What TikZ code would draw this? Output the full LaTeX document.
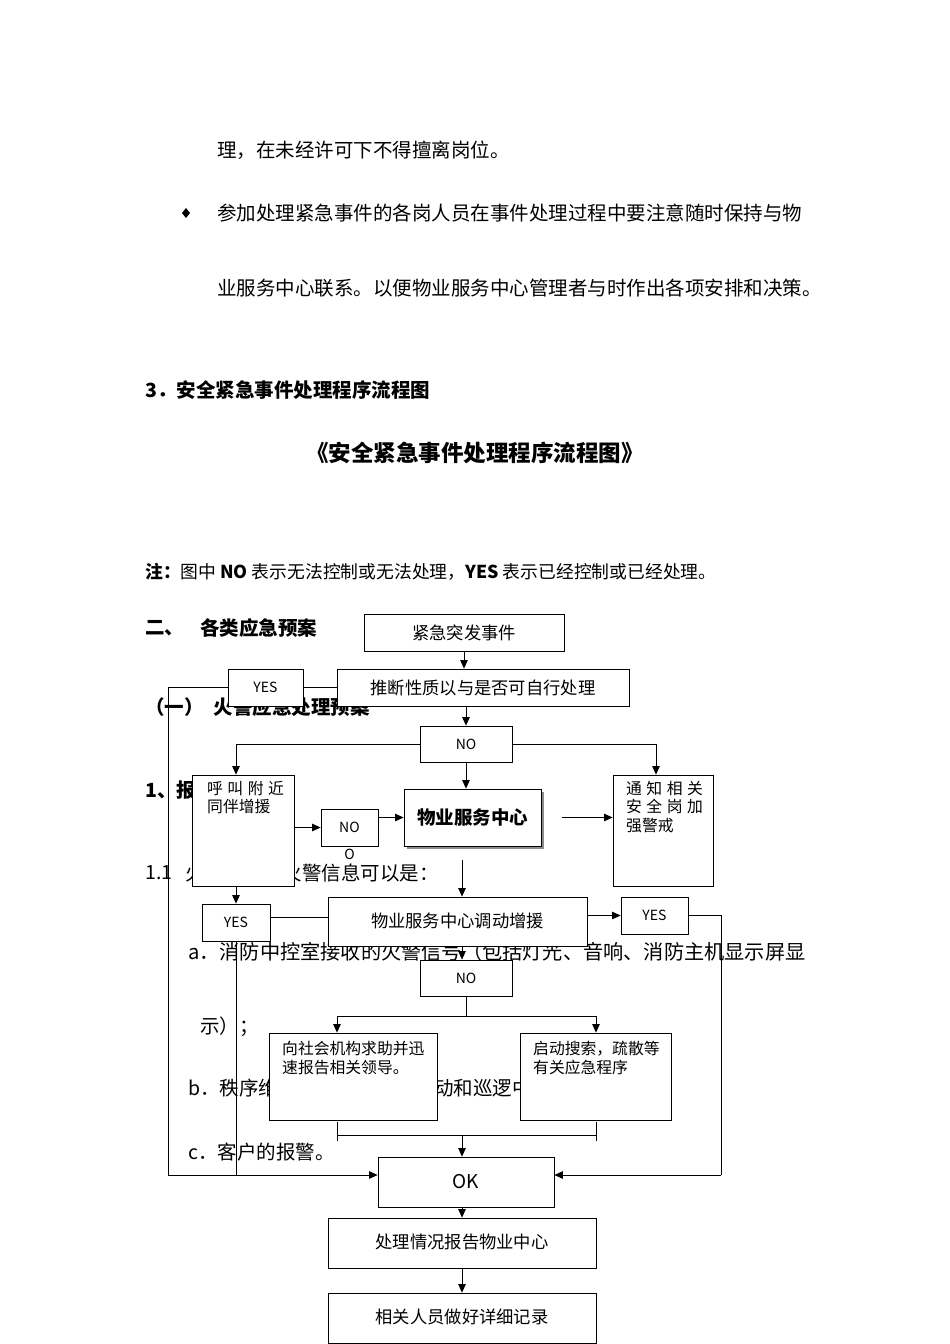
\documentclass[tikz,border=0pt]{standalone}
\usepackage{fontspec}
\setmainfont{Noto Sans CJK SC}
\usetikzlibrary{arrows.meta,shadows}
\pgfdeclarelayer{txt}
\pgfdeclarelayer{bg}
\pgfsetlayers{txt,bg,main}
\newcommand\myfs[1]{\fontsize{#1}{#1}\selectfont}
\begin{document}
\begin{tikzpicture}[x=1pt,y=-1pt,
  box/.style={draw, fill=white, line width=0.8pt, inner sep=0pt, font=\myfs{17.3}},
  small/.style={box, font=\myfs{14}},
  arr/.style={line width=0.8pt, -{Triangle[length=8.5pt,width=7.5pt]}},
  ln/.style={line width=0.8pt},
  body/.style={anchor=west, inner sep=0pt, font=\myfs{19.5}},
  bodyb/.style={anchor=west, inner sep=0pt, font=\myfs{19.5}\bfseries},
  inner/.style={anchor=north west, inner sep=0pt, align=left, font=\fontsize{15.8}{18.5}\selectfont},
  ]
\useasboundingbox (0,0) rectangle (950,1344);

% ---------- body text ----------
\begin{pgfonlayer}{txt}
\fill[white] (0,0) rectangle (950,1344);
\node[body] (t1) at (217,150) {理，在未经许可下不得擅离岗位。};
\fill (186,208) -- (190,213) -- (186,218) -- (182,213) -- cycle;
\node[body] (t2) at (217,213) {参加处理紧急事件的各岗人员在事件处理过程中要注意随时保持与物};
\node[body] (t3) at (217,288) {业服务中心联系。以便物业服务中心管理者与时作出各项安排和决策。};
\node[bodyb] (t4) at (145,390) {3．安全紧急事件处理程序流程图};
\node[inner sep=0pt, font=\myfs{22.5}\bfseries] (t5) at (475,453) {《安全紧急事件处理程序流程图》};
\node[body, font=\myfs{17.8}] (t6) at (145,572) {{\bfseries 注：}图中 {\bfseries NO} 表示无法控制或无法处理，{\bfseries YES} 表示已经控制或已经处理。};
\node[bodyb] (t7a) at (145,628) {二、};
\node[bodyb] (t7b) at (200,628) {各类应急预案};
\node[bodyb] (t8) at (145,707) {（一）\hspace{10pt}火警应急处理预案};
\node[bodyb] (t9) at (145,790) {1、报};
\node[body] (t10a) at (145,873) {1.1};
\node[body] (t10b) at (185,873) {火警来源：火警信息可以是：};
\node[body, font=\myfs{20.2}] (t11) at (188,952) {a．消防中控室接收的火警信号（包括灯光、音响、消防主机显示屏显};
\node[body] (t12) at (200,1027) {示）；};
\node[body] (t13) at (188,1089) {b．秩序维护员在日常工作走动和巡逻中发现的火警；};
\node[body] (t14) at (188,1152) {c．客户的报警。};
\end{pgfonlayer}

% ---------- boxes ----------
\node[box, minimum width=200pt, minimum height=37pt] (jinji) at (464,632.5) {紧急突发事件};
\node[box, minimum width=292pt, minimum height=37pt] (tuiduan) at (483,687.5) {推断性质以与是否可自行处理};
\node[small, minimum width=75pt, minimum height=37pt] (yes1) at (265.5,687.5) {YES};
\node[small, minimum width=92pt, minimum height=36pt] (no1) at (466,744) {NO};
\node[box, minimum width=102pt, minimum height=111pt] (hujiao) at (243,830.5) {};
\node[inner] (hujiaot) at (207,781) {呼\hspace{4.5pt}叫\hspace{4.5pt}附\hspace{4.5pt}近\\同伴增援};
\node[small, minimum width=57pt, minimum height=37pt] (no2) at (349.5,827.5) {NO};
\node[inner sep=0pt, font=\myfs{14}] (o2) at (349.5,854) {O};
\node[box, minimum width=137pt, minimum height=57pt, font=\myfs{18.5}\bfseries,
      drop shadow={shadow xshift=3pt, shadow yshift=-3pt, fill=black!45, opacity=1}] (wuye) at (472.5,817.5) {物业服务中心};
\node[box, minimum width=100pt, minimum height=111pt] (tongzhi) at (663,830.5) {};
\node[inner] (tongzhit) at (626,781) {通\hspace{4.5pt}知\hspace{4.5pt}相\hspace{4.5pt}关\\安\hspace{4.5pt}全\hspace{4.5pt}岗\hspace{4.5pt}加\\强警戒};
\node[small, minimum width=68pt, minimum height=37pt] (yes2) at (236,922.5) {YES};
\node[box, minimum width=259pt, minimum height=49pt] (diaodong) at (457.5,921.5) {\raisebox{3pt}{物业服务中心调动增援}};
\node[small, minimum width=67pt, minimum height=37pt] (yes3) at (654.5,915.5) {YES};
\node[small, minimum width=92pt, minimum height=36pt] (no3) at (466,978) {NO};
\node[box, minimum width=168pt, minimum height=87pt] (xiang) at (353,1076.5) {};
\node[inner] (xiangt) at (282,1041) {向社会机构求助并迅\\速报告相关领导。};
\node[box, minimum width=151pt, minimum height=87pt] (qidong) at (595.5,1076.5) {};
\node[inner] (qidongt) at (533,1041) {启动搜索，疏散等\\有关应急程序};
\node[box, minimum width=176pt, minimum height=50pt, font=\myfs{19}] (ok) at (466,1182) {OK};
\node[box, minimum width=268pt, minimum height=50pt] (chuli) at (462,1243) {\raisebox{3pt}{处理情况报告物业中心}};
\node[box, minimum width=268pt, minimum height=50pt] (jilu) at (462,1318) {\raisebox{3pt}{相关人员做好详细记录}};

% ---------- helper coordinates ----------
\coordinate (lc) at (168,1175);
\coordinate (lt) at (168,687.5);
\coordinate (h1) at (236,744);
\coordinate (h2) at (656,744);
\coordinate (w1) at (562,817.5);
\coordinate (w2) at (462,860);
\coordinate (d1) at (462,946);
\coordinate (rc) at (721,1175);
\coordinate (s0) at (466,1016);
\coordinate (s1) at (337,1016);
\coordinate (s2) at (596,1016);
\coordinate (b1) at (337,1135);
\coordinate (b2) at (596,1135);
\coordinate (bm) at (462,1135);

% ---------- connectors ----------
\begin{pgfonlayer}{bg}
\draw[arr] (jinji.south) -- (jinji.south |- tuiduan.north);
\draw[arr] (no1.north |- tuiduan.south) -- (no1.north);
\draw[ln] (tuiduan.west) -- (lt) -- (lc);
\draw[arr] (lc) -- (lc -| ok.west);
\draw[ln] (h1) -- (h2);
\draw[arr] (h1) -- (h1 |- hujiao.north);
\draw[arr] (h2) -- (h2 |- tongzhi.north);
\draw[arr] (no1.south) -- (no1.south |- wuye.north);
\draw[arr] (hujiao.east |- no2) -- (no2.west);
\draw[arr] (no2.east |- wuye.west) -- (wuye.west);
\draw[arr] (w1) -- (w1 -| tongzhi.west);
\draw[arr] (w2) -- (w2 |- diaodong.north);
\draw[arr] (yes2.north |- hujiao.south) -- (yes2.north);
\draw[ln] ([yshift=5pt]yes2.east) -- ([yshift=5pt]yes2.east -| diaodong.west);
\draw[ln] (yes2.south) -- (yes2.south |- lc);
\draw[arr] (diaodong.east |- yes3) -- (yes3.west);
\draw[ln] (yes3.east) -| (rc);
\draw[arr] (rc) -- (rc -| ok.east);
\draw[arr] (d1) -- (d1 |- no3.north);
\draw[ln] (no3.south) -- (s0);
\draw[ln] (s1) -- (s2);
\draw[arr] (s1) -- (s1 |- xiang.north);
\draw[arr] (s2) -- (s2 |- qidong.north);
\draw[ln] (b1) -- (b2);
\draw[ln] (337,1122) -- (337,1141);
\draw[ln] (596,1122) -- (596,1141);
\draw[arr] (bm) -- (bm |- ok.north);
\draw[arr] (ok.south -| chuli.north) -- (chuli.north);
\draw[arr] (chuli.south) -- (jilu.north);
\end{pgfonlayer}
\end{tikzpicture}
\end{document}
